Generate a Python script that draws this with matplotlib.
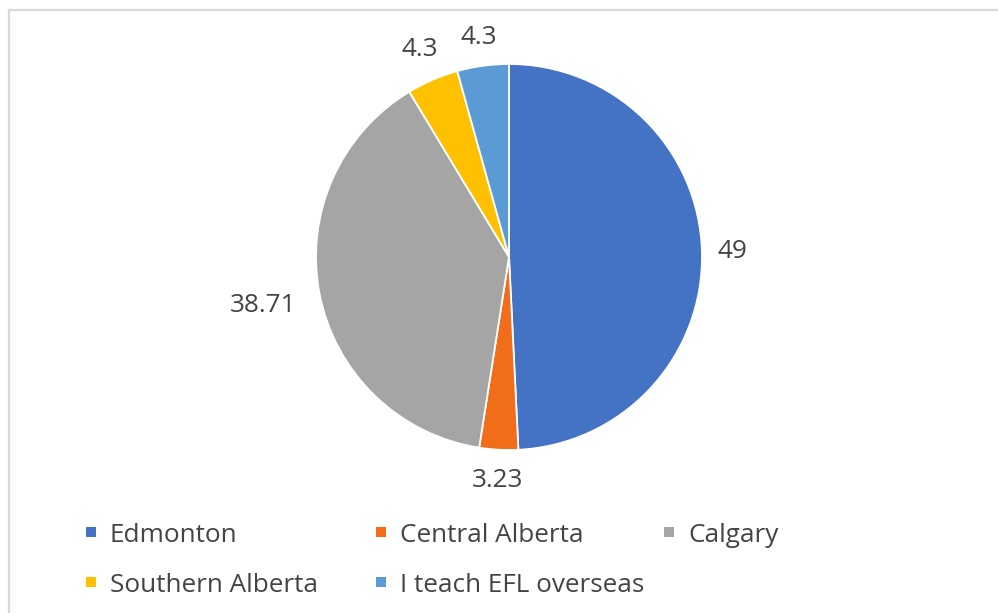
import matplotlib
matplotlib.use("Agg")
import matplotlib.pyplot as plt
import numpy as np
from matplotlib.patches import Rectangle
from matplotlib.lines import Line2D

# ---- data ----
categories = ["Edmonton", "Central Alberta", "Calgary", "Southern Alberta", "I teach EFL overseas"]
values = [49, 3.23, 38.71, 4.3, 4.3]
value_labels = ["49", "3.23", "38.71", "4.3", "4.3"]
colors = ["#4472C4", "#F26D1A", "#A5A5A5", "#FFC000", "#5B9BD5"]

# ---- style ----
label_dist = [1.16, 1.16, 1.30, 1.17, 1.15]
text_color = "#444444"
font = ["Open Sans", "DejaVu Sans"]
fs = 18.8

W, H = 998, 613
fig = plt.figure(figsize=(W / 100, H / 100), dpi=100)
fig.patch.set_facecolor("white")

# chart border (top and left visible)
fig.add_artist(Line2D([9 / W, 1.0], [1 - 10 / H, 1 - 10 / H], color="#D9D9D9", lw=1.6))
fig.add_artist(Line2D([8.5 / W, 8.5 / W], [0, 1 - 10 / H], color="#D9D9D9", lw=1.6))

cx, cy, r = 509, 257, 193
ax = fig.add_axes([(cx - r) / W, (H - cy - r) / H, 2 * r / W, 2 * r / H])
wedges, _ = ax.pie(values, colors=colors, startangle=90, counterclock=False,
                   wedgeprops=dict(edgecolor="white", linewidth=1.3))
ax.set_xlim(-1, 1)
ax.set_ylim(-1, 1)
ax.set_aspect("equal")
ax.axis("off")

for w, lab, d in zip(wedges, value_labels, label_dist):
    ang = np.deg2rad((w.theta1 + w.theta2) / 2)
    ax.text(d * np.cos(ang), d * np.sin(ang), lab, ha="center", va="center",
            fontsize=fs, color=text_color, family=font, clip_on=False)

# legend (manual layout to match spacing)
sq_left = [86, 376, 664, 86, 376]
txt_left = [110, 400, 688, 110, 400]
row_y = [532, 532, 532, 582, 582]
sq = 10
for name, c, sx, tx, ry in zip(categories, colors, sq_left, txt_left, row_y):
    fig.add_artist(Rectangle((sx / W, (H - ry - sq / 2) / H), sq / W, sq / H,
                             facecolor=c, edgecolor="none", transform=fig.transFigure))
    fig.text(tx / W, (H - ry) / H, name, ha="left", va="center_baseline",
             fontsize=fs, color=text_color, family=font)

fig.savefig("out.png", dpi=100, facecolor="white")
